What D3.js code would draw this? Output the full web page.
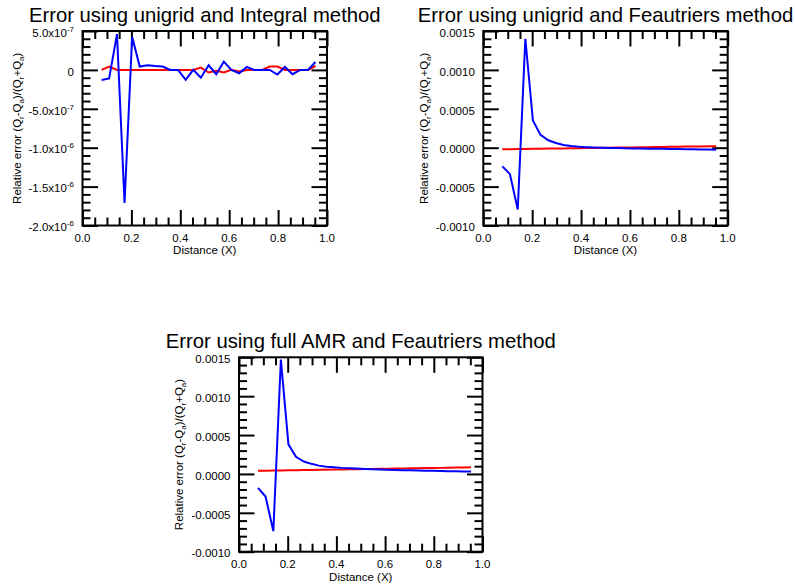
<!DOCTYPE html>
<html>
<head>
<meta charset="utf-8">
<script src="https://cdn.jsdelivr.net/npm/d3@7"></script>
<style>
  html, body { margin: 0; padding: 0; background: #fff; }
  svg { display: block; }
  text { font-family: "Liberation Sans", Arial, Helvetica, sans-serif; fill: #000; }
</style>
</head>
<body>
<svg id="fig" width="795" height="587"></svg>
<script>
// Cell-centre positions along the ray (shared by every panel)
const distance = [0.078, 0.109, 0.141, 0.172, 0.203, 0.234, 0.266, 0.297, 0.328, 0.359,
                  0.391, 0.422, 0.453, 0.484, 0.516, 0.547, 0.578, 0.609, 0.641, 0.672,
                  0.703, 0.734, 0.766, 0.797, 0.828, 0.859, 0.891, 0.922, 0.953];

// Unigrid + Integral method (units of 1e-7)
const integralBlue = [-1.3, -1.1, 4.6, -17.1, 4.25, 0.43, 0.6, 0.5, 0.43, 0.0,
                      0.0, -1.28, 0.0, -1.0, 0.6, -0.55, 1.06, 0.0, -0.43, 0.38,
                      0.0, 0.0, 0.0, -0.6, 0.38, -0.55, 0.0, 0.0, 1.02];
const integralRed  = [0.0, 0.43, 0.0, 0.0, 0.0, 0.0, 0.0, 0.0, 0.0, 0.0,
                      0.0, 0.0, 0.0, 0.3, -0.34, -0.1, -0.34, 0.0, -0.2, 0.0,
                      0.0, 0.0, 0.43, 0.43, 0.0, 0.0, 0.0, 0.0, 0.5];

// Unigrid + Feautrier method (units of 1e-4)
const unigridFeauBlue = [-2.4, -3.4, -7.95, 14.0, 3.5, 1.65, 0.95, 0.6, 0.35, 0.22,
                         0.12, 0.06, 0.02, 0.0, -0.03, -0.05, -0.07, -0.09, -0.11, -0.12,
                         -0.14, -0.15, -0.17, -0.18, -0.2, -0.21, -0.22, -0.24, -0.25];
const unigridFeauRed  = [-0.20, -0.19, -0.17, -0.16, -0.14, -0.13, -0.11, -0.10, -0.09, -0.07,
                         -0.06, -0.04, -0.03, -0.01, 0.00, 0.01, 0.03, 0.04, 0.06, 0.07,
                         0.09, 0.10, 0.11, 0.13, 0.14, 0.16, 0.17, 0.19, 0.20];

// Full AMR + Feautrier method (units of 1e-4)
const amrFeauBlue = [-1.8, -2.9, -7.35, 14.7, 3.8, 2.2, 1.6, 1.3, 1.07, 0.94,
                     0.86, 0.78, 0.73, 0.69, 0.65, 0.6, 0.57, 0.54, 0.51, 0.49,
                     0.46, 0.44, 0.42, 0.40, 0.38, 0.36, 0.34, 0.32, 0.3];
const amrFeauRed  = [0.40, 0.42, 0.43, 0.45, 0.46, 0.48, 0.50, 0.51, 0.53, 0.54,
                     0.56, 0.58, 0.59, 0.61, 0.62, 0.64, 0.66, 0.67, 0.69, 0.70,
                     0.72, 0.74, 0.75, 0.77, 0.78, 0.80, 0.82, 0.83, 0.85];

// Tick values and labels
const xTicks = [0.0, 0.2, 0.4, 0.6, 0.8, 1.0];
const xTickLabels = ["0.0", "0.2", "0.4", "0.6", "0.8", "1.0"];
const integralYTicks = [5e-7, 0, -5e-7, -1e-6, -1.5e-6, -2e-6];
const integralYLabels = ["5.0x10^-7", "0", "-5.0x10^-7", "-1.0x10^-6", "-1.5x10^-6", "-2.0x10^-6"];
const feauYTicks = [0.0015, 0.0010, 0.0005, 0.0, -0.0005, -0.0010];
const feauYLabels = ["0.0015", "0.0010", "0.0005", "0.0000", "-0.0005", "-0.0010"];

const titles = ["Error using unigrid and Integral method",
                "Error using unigrid and Feautriers method",
                "Error using full AMR and Feautriers method"];

const panels = [
  { title: titles[0], box: [82.5, 31, 327, 225.5], yDomain: [-2e-6, 5e-7], scale: 1e-7,
    blue: integralBlue, red: integralRed, yTicks: integralYTicks, yLabels: integralYLabels, yMinorStep: 1e-7 },
  { title: titles[1], box: [483.3, 31, 727.7, 225.5], yDomain: [-0.001, 0.0015], scale: 1e-4,
    blue: unigridFeauBlue, red: unigridFeauRed, yTicks: feauYTicks, yLabels: feauYLabels, yMinorStep: 1e-4 },
  { title: titles[2], box: [239, 357.3, 482.5, 551.7], yDomain: [-0.001, 0.0015], scale: 1e-4,
    blue: amrFeauBlue, red: amrFeauRed, yTicks: feauYTicks, yLabels: feauYLabels, yMinorStep: 1e-4 }
];

const svg = d3.select("#fig");
const FS = 11.5;      // tick / axis label size
const MAJOR = 15.5, MINOR = 8;

function addLabel(sel, str, supSize) {
  // "a^b" -> a with superscript b
  const parts = str.split("^");
  sel.append("tspan").text(parts[0]);
  if (parts.length > 1) {
    sel.append("tspan").attr("font-size", supSize).attr("dy", -5).text(parts[1]);
  }
}

panels.forEach(p => {
  const [x0, y0, x1, y1] = p.box;
  const x = d3.scaleLinear().domain([0, 1]).range([x0, x1]);
  const y = d3.scaleLinear().domain(p.yDomain).range([y1, y0]);
  const g = svg.append("g");

  // minor tick positions
  const xMinor = d3.range(0, 1.0001, 0.05).map(v => +v.toFixed(3)).filter(v => !xTicks.some(t => Math.abs(t - v) < 1e-9));
  const nY = Math.round((p.yDomain[1] - p.yDomain[0]) / p.yMinorStep);
  const yMinor = d3.range(0, nY + 1).map(i => p.yDomain[0] + i * p.yMinorStep)
                   .filter(v => !p.yTicks.some(t => Math.abs(t - v) < p.yMinorStep * 1e-3));

  const axes = [
    [d3.axisBottom(x), `translate(0,${y1})`, xTicks, xMinor],
    [d3.axisTop(x),    `translate(0,${y0})`, xTicks, xMinor],
    [d3.axisLeft(y),   `translate(${x0},0)`, p.yTicks, yMinor],
    [d3.axisRight(y),  `translate(${x1},0)`, p.yTicks, yMinor]
  ];
  axes.forEach(([ax, tr, majors, minors]) => {
    const mk = () => ax.copy ? ax.copy() : ax;
    g.append("g").attr("transform", tr)
      .call(ax.tickValues(majors).tickSize(-MAJOR).tickFormat(""))
      .call(s => s.select(".domain").remove())
      .selectAll("line").attr("stroke", "#000").attr("stroke-width", 2);
    g.append("g").attr("transform", tr)
      .call(ax.tickValues(minors).tickSize(-MINOR).tickFormat(""))
      .call(s => s.select(".domain").remove())
      .selectAll("line").attr("stroke", "#000").attr("stroke-width", 2);
  });

  // frame
  g.append("rect").attr("x", x0).attr("y", y0).attr("width", x1 - x0).attr("height", y1 - y0)
    .attr("fill", "none").attr("stroke", "#000").attr("stroke-width", 2);

  // data
  const line = d3.line().x((d, i) => x(distance[i])).y(d => y(d * p.scale));
  g.append("path").datum(p.red).attr("d", line)
    .attr("fill", "none").attr("stroke", "#ff0000").attr("stroke-width", 2);
  g.append("path").datum(p.blue).attr("d", line)
    .attr("fill", "none").attr("stroke", "#0000ff").attr("stroke-width", 2);

  // x tick labels
  xTicks.forEach((t, i) => {
    g.append("text").attr("x", x(t)).attr("y", y1 + 16.6).attr("text-anchor", "middle")
      .attr("font-size", FS).text(xTickLabels[i]);
  });
  // y tick labels
  let minLeft = Infinity;
  p.yTicks.forEach((t, i) => {
    const tx = g.append("text").attr("x", x0 - 8.5).attr("y", y(t) + 5.7)
      .attr("text-anchor", "end").attr("font-size", FS);
    addLabel(tx, p.yLabels[i], 8);
    minLeft = Math.min(minLeft, tx.node().getBBox().x);
  });

  // axis titles
  g.append("text").attr("x", (x0 + x1) / 2).attr("y", y1 + 28.8).attr("text-anchor", "middle")
    .attr("font-size", FS).text("Distance (X)");

  const yl = g.append("text").attr("text-anchor", "middle").attr("font-size", FS)
    .attr("transform", `translate(${minLeft - 8},${(y0 + y1) / 2}) rotate(-90)`);
  const seq = [["Relative error (Q", 0], ["r", 1], ["-Q", 0], ["a", 1], [")/(Q", 0], ["r", 1], ["+Q", 0], ["a", 1], [")", 0]];
  let shifted = false;
  seq.forEach(([s, sub]) => {
    const ts = yl.append("tspan").text(s);
    if (sub && !shifted) { ts.attr("font-size", 8).attr("dy", 3); shifted = true; }
    else if (!sub && shifted) { ts.attr("dy", -3); shifted = false; }
    else if (sub) ts.attr("font-size", 8);
  });

  // plot title
  g.append("text").attr("x", (x0 + x1) / 2).attr("y", y0 - 9).attr("text-anchor", "middle")
    .attr("font-size", 20.3).text(p.title);
});
</script>
</body>
</html>
